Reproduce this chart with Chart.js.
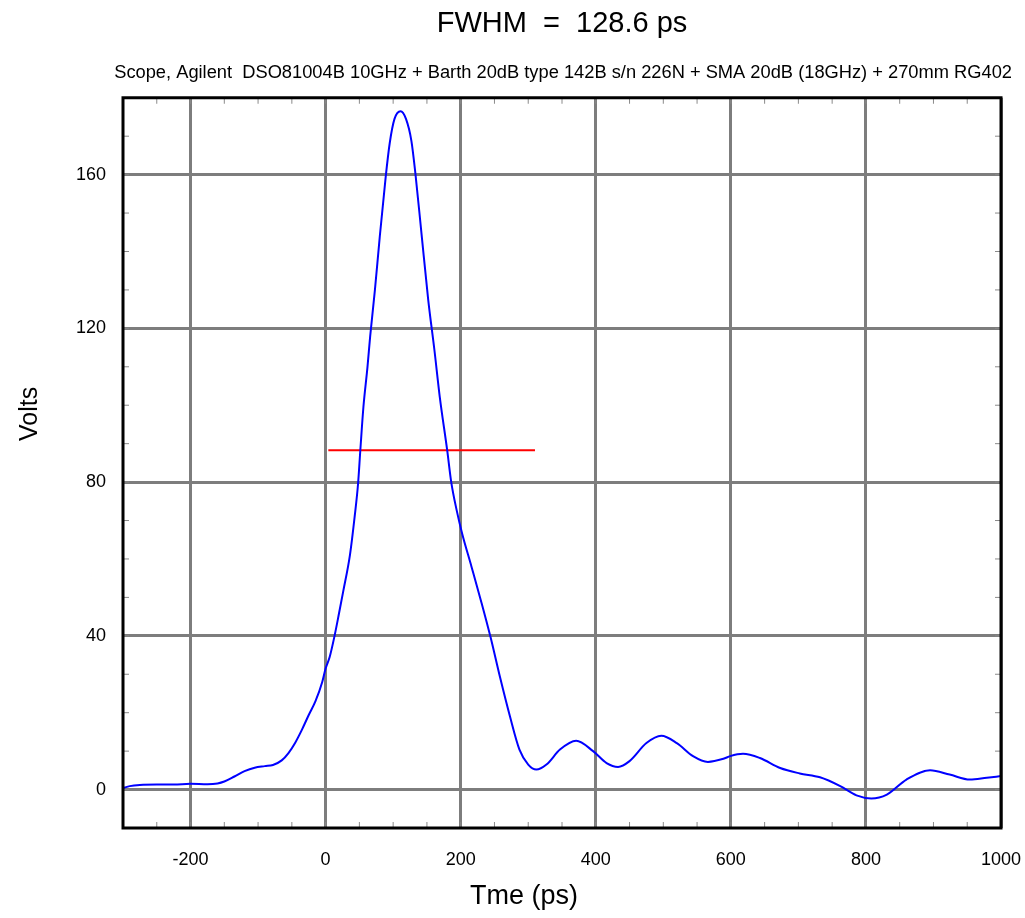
<!DOCTYPE html>
<html>
<head>
<meta charset="utf-8">
<script src="https://cdn.jsdelivr.net/npm/chart.js@4.4.1/dist/chart.umd.min.js"></script>
<style>
  html, body { margin: 0; padding: 0; background: #fff; }
</style>
</head>
<body>
<canvas id="myChart" width="1025" height="918"></canvas>
<script>
// pulse (ps, volts)
const timePs = [-300, -290, -275, -250, -225, -200, -175, -160, -150, -135, -120, -105, -90, -78, -65,
  -55, -45, -35, -25, -15, -5, 0, 6, 13, 20, 26, 36, 43, 48, 51.4, 56, 62, 66, 73, 80, 89, 95, 102, 111,
  119, 127, 133, 142, 152, 161, 169, 180, 186, 194, 202, 216, 231, 244, 258, 273, 287, 300, 312, 327,
  347, 371, 396, 416, 433, 450, 475, 497, 520, 544, 566, 589, 599, 618, 643, 673, 702, 732, 762, 786,
  808, 831, 860, 895, 924, 954, 979, 1000];
const volts = [0.4, 0.9, 1.2, 1.3, 1.3, 1.5, 1.4, 1.6, 2.1, 3.4, 4.8, 5.7, 6.1, 6.4, 7.6,
  9.5, 12.2, 15.6, 19.4, 23.0, 28.0, 31.5, 34.5, 39.8, 46, 51.5, 61, 71, 79.5, 88.3, 99.6, 110, 118, 130, 143.5, 159.5, 168.3, 174.5, 176.5,
  174.5, 168.8, 160.2, 144.6, 127.3, 114.5, 102.2, 88.3, 80, 72.7, 66.7, 58, 48.5, 39.8, 29.4, 19, 10.4, 6.5, 5.2, 6.5,
  10.4, 12.7, 10, 6.9, 5.9, 7.4, 12.1, 14, 12.1, 8.7, 7.2, 8, 8.7, 9.3, 8.2, 5.6, 4.2, 3.2, 0.9, -1.5,
  -2.3, -1.3, 2.6, 5, 3.9, 2.6, 3.1, 3.5];

// half-maximum marker
const fwhmX = [4, 310];
const fwhmY = [88.3, 88.3];

const xLabels = [-200, 0, 200, 400, 600, 800, 1000];
const yLabels = [0, 40, 80, 120, 160];

const font = '"Liberation Sans", Arial, Helvetica, sans-serif';

// inward minor ticks, black frame and the axis titles (which sit off-centre in the original)
const plotFrame = {
  id: 'plotFrame',
  afterDraw(chart) {
    const { ctx, chartArea: a, scales: { x, y } } = chart;
    ctx.save();
    ctx.strokeStyle = '#8a8a8a';
    ctx.lineWidth = 1;
    ctx.beginPath();
    x.ticks.forEach(t => {
      const px = x.getPixelForValue(t.value);
      ctx.moveTo(px, a.top); ctx.lineTo(px, a.top + 6);
      ctx.moveTo(px, a.bottom); ctx.lineTo(px, a.bottom - 6);
    });
    y.ticks.forEach(t => {
      const py = y.getPixelForValue(t.value);
      ctx.moveTo(a.left, py); ctx.lineTo(a.left + 6, py);
      ctx.moveTo(a.right, py); ctx.lineTo(a.right - 6, py);
    });
    ctx.stroke();
    ctx.strokeStyle = '#000';
    ctx.lineWidth = 3;
    ctx.strokeRect(a.left, a.top, a.right - a.left, a.bottom - a.top);

    ctx.fillStyle = '#000';
    ctx.textAlign = 'center';
    ctx.textBaseline = 'middle';
    ctx.font = '27px ' + font;
    ctx.fillText('Tme (ps)', (a.left + a.right) / 2 - 38, x.bottom - 21);
    ctx.translate(y.left + 30, (a.top + a.bottom) / 2 - 49);
    ctx.rotate(-Math.PI / 2);
    ctx.font = '25px ' + font;
    ctx.fillText('Volts', 0, 0);
    ctx.restore();
  }
};

new Chart(document.getElementById('myChart'), {
  type: 'line',
  data: {
    datasets: [{
      data: timePs.map((t, i) => ({ x: t, y: volts[i] })),
      borderColor: '#0000ff',
      borderWidth: 2,
      pointRadius: 0,
      cubicInterpolationMode: 'monotone'
    }, {
      data: fwhmX.map((t, i) => ({ x: t, y: fwhmY[i] })),
      borderColor: '#ff0000',
      borderWidth: 2,
      pointRadius: 0
    }]
  },
  options: {
    responsive: false,
    animation: false,
    layout: { padding: { top: 0, right: 13, bottom: 0, left: 0 } },
    plugins: {
      legend: { display: false },
      tooltip: { enabled: false },
      title: {
        display: true,
        fullSize: false,
        text: 'FWHM  =  128.6 ps',
        color: '#000',
        font: { family: font, size: 29, weight: 'normal' },
        padding: { top: 7, bottom: 12 }
      },
      subtitle: {
        display: true,
        align: 'end',
        text: 'Scope, Agilent  DSO81004B 10GHz + Barth 20dB type 142B s/n 226N + SMA 20dB (18GHz) + 270mm RG402',
        color: '#000',
        font: { family: font, size: 18.3 },
        padding: { top: 8, bottom: 14 }
      }
    },
    scales: {
      x: {
        type: 'linear',
        min: -300,
        max: 1000,
        afterFit(s) { s.height = 90; s.paddingLeft = 0; s.paddingRight = 0; },
        border: { display: false },
        grid: {
          color: c => xLabels.includes(c.tick.value) ? '#7d7d7d' : 'rgba(0,0,0,0)',
          lineWidth: 3,
          drawTicks: false
        },
        ticks: {
          stepSize: 50,
          autoSkip: false,
          maxRotation: 0,
          padding: 21,
          color: '#000',
          font: { family: font, size: 18 },
          callback: v => xLabels.includes(v) ? String(v) : ''
        }
      },
      y: {
        min: -10,
        max: 180,
        afterFit(s) { s.width = 123; s.paddingTop = 0; s.paddingBottom = 0; },
        border: { display: false },
        grid: {
          color: c => yLabels.includes(c.tick.value) ? '#7d7d7d' : 'rgba(0,0,0,0)',
          lineWidth: 3,
          drawTicks: false
        },
        ticks: {
          stepSize: 10,
          autoSkip: false,
          padding: 17,
          color: '#000',
          font: { family: font, size: 18 },
          callback: v => yLabels.includes(v) ? String(v) : ''
        }
      },
      // empty right-hand strip so the subtitle can run past the plot edge
      yRight: {
        position: 'right',
        afterFit(s) { s.width = 11; s.paddingTop = 0; s.paddingBottom = 0; },
        border: { display: false },
        grid: { display: false, drawTicks: false },
        ticks: { display: false }
      }
    }
  },
  plugins: [plotFrame]
});
</script>
</body>
</html>
